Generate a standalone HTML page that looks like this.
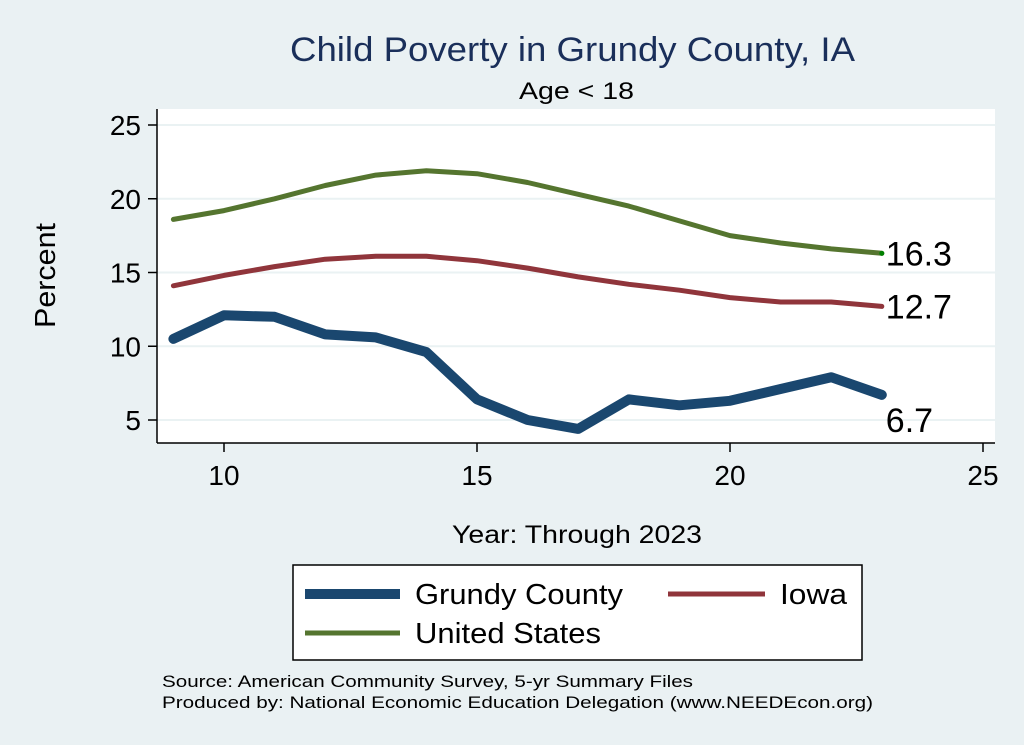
<!DOCTYPE html>
<html><head><meta charset="utf-8"><style>
body{margin:0;background:#eaf1f3;}
svg{display:block;font-family:"Liberation Sans",Arial,sans-serif;}
</style></head><body>
<svg width="1024" height="745">
<rect width="1024" height="745" fill="#eaf1f3"/>
<rect x="157" y="109" width="838" height="334" fill="#ffffff"/>
<text x="290" y="61" font-size="34" fill="#1a2f5a" textLength="565" lengthAdjust="spacingAndGlyphs">Child Poverty in Grundy County, IA</text>
<text x="519" y="99" font-size="24" fill="#000" textLength="115" lengthAdjust="spacingAndGlyphs">Age &lt; 18</text>
<g id="grid"></g>
<line x1="157" y1="109" x2="157" y2="443" stroke="#000" stroke-width="1.5"/>
<line x1="157" y1="443" x2="995" y2="443" stroke="#000" stroke-width="1.5"/>
<g id="ticks"></g>
<g id="series"></g>
<text x="0" y="0" font-size="29" textLength="105" lengthAdjust="spacingAndGlyphs" transform="translate(55 328) rotate(-90)">Percent</text>
<text x="452" y="543" font-size="25" textLength="250" lengthAdjust="spacingAndGlyphs">Year: Through 2023</text>
<g>
<rect x="293" y="565" width="569" height="95" fill="#fff" stroke="#000" stroke-width="1.5"/>
<line x1="305" y1="594" x2="400" y2="594" stroke="#1a476f" stroke-width="10"/>
<text x="415" y="604" font-size="29" textLength="208" lengthAdjust="spacingAndGlyphs">Grundy County</text>
<line x1="668" y1="594" x2="765" y2="594" stroke="#90353b" stroke-width="5"/>
<text x="780" y="604" font-size="29" textLength="67" lengthAdjust="spacingAndGlyphs">Iowa</text>
<line x1="305" y1="633" x2="400" y2="633" stroke="#55752f" stroke-width="5"/>
<text x="415" y="643" font-size="29" textLength="186" lengthAdjust="spacingAndGlyphs">United States</text>
</g>
<text x="162" y="687" font-size="17" textLength="531" lengthAdjust="spacingAndGlyphs">Source: American Community Survey, 5-yr Summary Files</text>
<text x="162" y="708" font-size="17" textLength="711" lengthAdjust="spacingAndGlyphs">Produced by: National Economic Education Delegation (www.NEEDEcon.org)</text>
</svg>
<script>
const years=[9,10,11,12,13,14,15,16,17,18,19,20,21,22,23];
const grundy=[10.5,12.1,12.0,10.8,10.6,9.6,6.4,5.0,4.4,6.4,6.0,6.3,7.1,7.9,6.7];
const iowa=[14.1,14.8,15.4,15.9,16.1,16.1,15.8,15.3,14.7,14.2,13.8,13.3,13.0,13.0,12.7];
const us=[18.6,19.2,20.0,20.9,21.6,21.9,21.7,21.1,20.3,19.5,18.5,17.5,17.0,16.6,16.3];
const yTicks=[5,10,15,20,25];
const xTicks=[10,15,20,25];
const NS="http://www.w3.org/2000/svg";
function xs(v){return 224+(v-10)*50.6;}
function ys(v){return 420-(v-5)*14.75;}
function mk(t,a,p){const e=document.createElementNS(NS,t);for(const k in a)e.setAttribute(k,a[k]);p.appendChild(e);return e;}
const grid=document.getElementById('grid'),ticks=document.getElementById('ticks'),ser=document.getElementById('series');
yTicks.forEach(v=>{
 const g=mk('line',{x1:157,x2:995,y1:ys(v),y2:ys(v),stroke:'#eaf2f3','stroke-width':2},grid);
 
 
 const t=mk('line',{x1:148,x2:157,y1:ys(v),y2:ys(v),stroke:'#000','stroke-width':1.5},ticks);
 
 
 const l=mk('text',{x:141,y:ys(v)+10,'text-anchor':'end','font-size':28},ticks);
 l.textContent=v;
 
 
});
xTicks.forEach(v=>{
 const t=mk('line',{x1:xs(v),x2:xs(v),y1:443,y2:452,stroke:'#000','stroke-width':1.5},ticks);
 
 
 const l=mk('text',{x:xs(v),y:485,'text-anchor':'middle','font-size':28},ticks);
 l.textContent=v;
 
 
});
function line(vals,color,w,name){
 const d=vals.map((v,i)=>(i?'L':'M')+xs(years[i]).toFixed(1)+','+ys(v).toFixed(1)).join('');
 const p=mk('path',{d:d,fill:'none',stroke:color,'stroke-width':w,'stroke-linejoin':'round','stroke-linecap':'round'},ser);
 
 
 const last=vals[vals.length-1];
 const t=mk('text',{x:xs(years[years.length-1])+4,y:ys(last)+(name==='grundy'?37:12),'font-size':34},ser);
 t.textContent=last.toFixed(1);
 
 
}
line(us,'#55752f',5,'us');
line(iowa,'#90353b',5,'iowa');
line(grundy,'#1a476f',10,'grundy');
const dot=mk('circle',{cx:xs(years[years.length-1]),cy:ys(us[us.length-1]),r:2.5,fill:'#008000'},ser);


</script>
</body></html>
